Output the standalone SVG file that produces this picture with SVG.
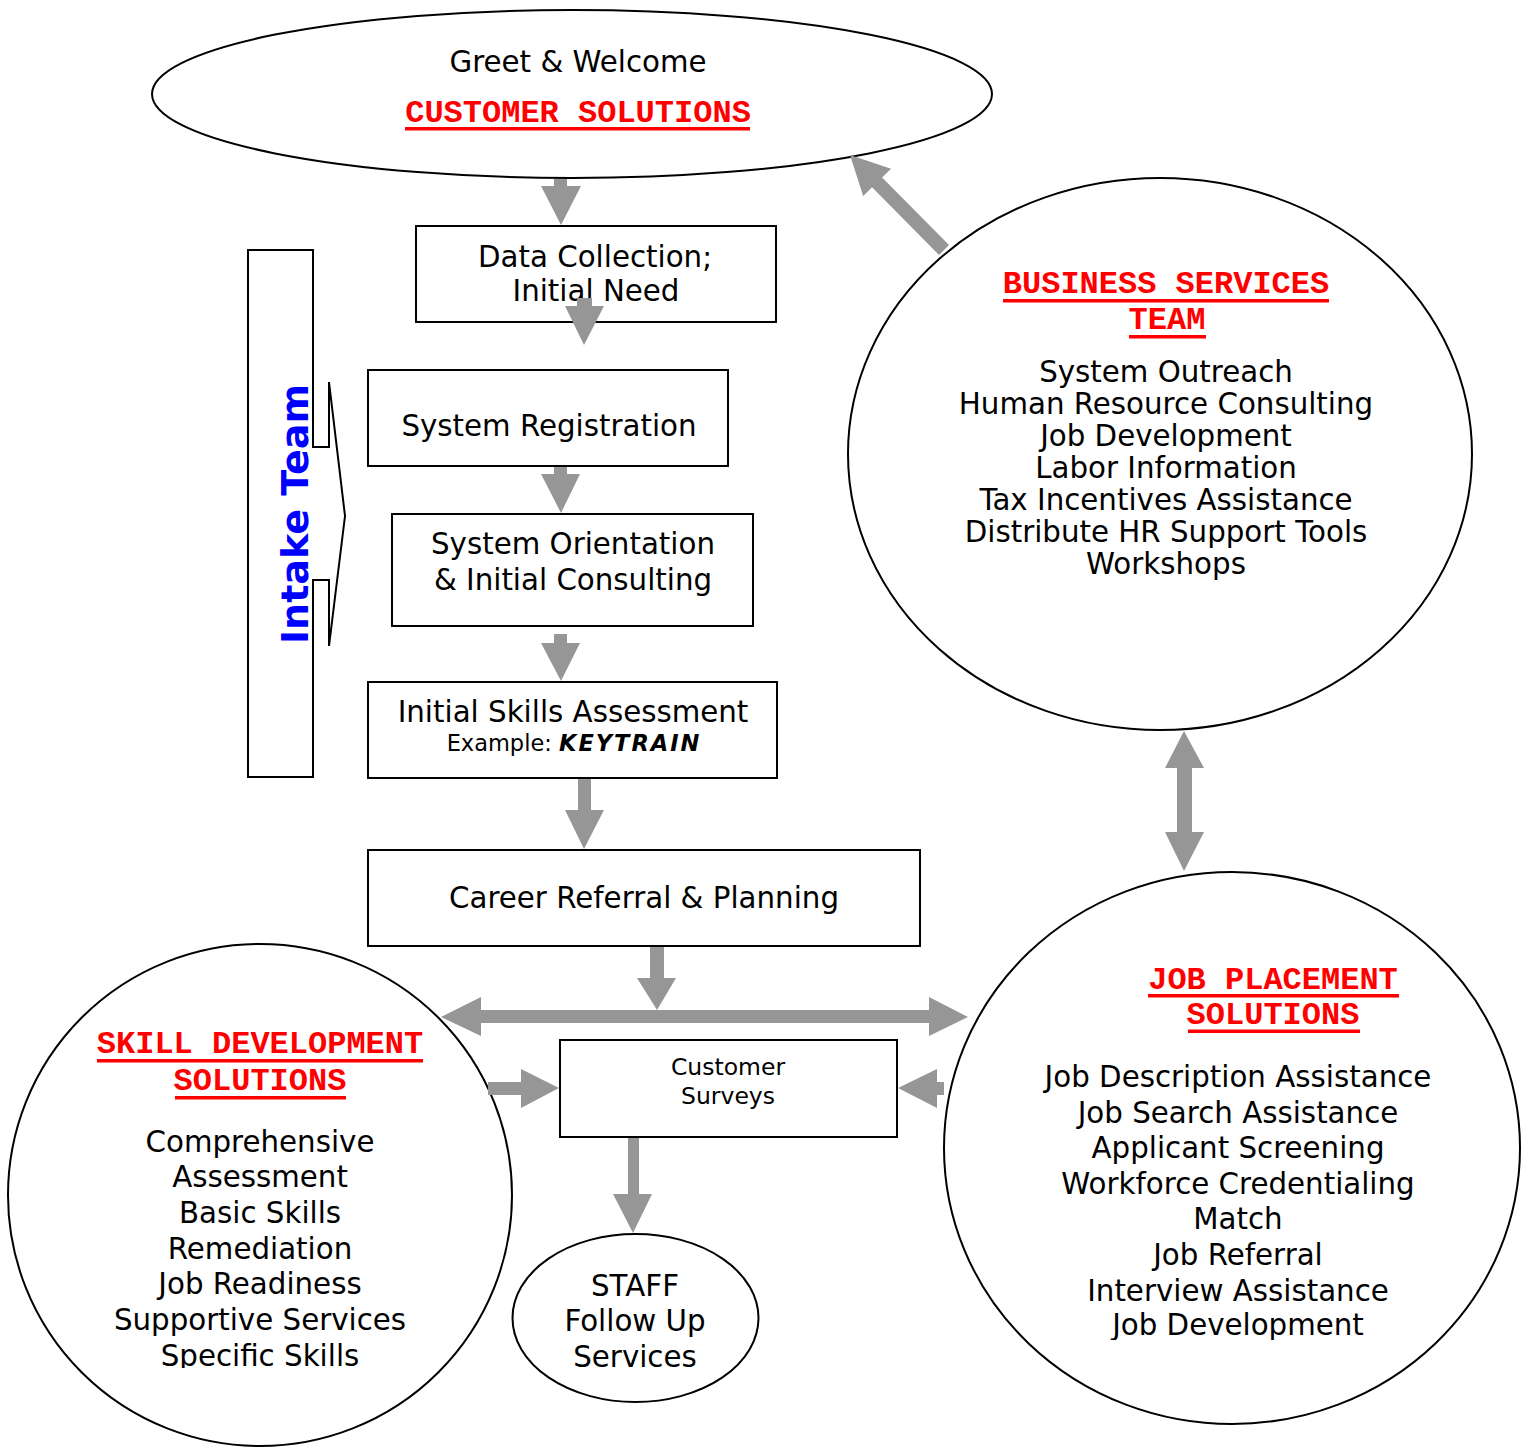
<svg xmlns="http://www.w3.org/2000/svg" width="1524" height="1447" viewBox="0 0 1524 1447">
<style>
.shape{fill:#fff;stroke:#000;stroke-width:2}
.t{font-family:"DejaVu Sans","Verdana",sans-serif;font-size:29.3px;fill:#000;text-anchor:middle}
.s{font-size:23.5px}
.ex{font-size:22.5px}
.h{font-family:"Liberation Mono","Courier New",monospace;font-weight:bold;font-size:32px;fill:#f00;text-anchor:middle}
.ul{fill:#f00}
.arr{fill:#969696;stroke:none}
</style>
<defs>
<clipPath id="clipSds"><rect x="0" y="1100" width="520" height="268"/></clipPath>
<clipPath id="clipJps"><rect x="940" y="1040" width="584" height="300"/></clipPath>
</defs>

<g id="customer-solutions">
<ellipse class="shape" cx="572" cy="94" rx="420" ry="84"/>
<text class="t" x="578" y="72">Greet &amp; Welcome</text>
<text class="h" x="578" y="122">CUSTOMER SOLUTIONS</text>
<rect class="ul" x="405" y="127" width="345" height="3.5"/>
</g>

<g id="intake-team">
<path d="M248,250 H313 V447 H329 V382 L345,516 L329,646 V580 H313 V777 H248 Z" fill="none" stroke="#000" stroke-width="2"/>
<text transform="translate(308,514) rotate(-90)" x="0" y="0" font-family="DejaVu Sans, Verdana, sans-serif" font-weight="bold" font-size="38" fill="#0000ff" text-anchor="middle">Intake Team</text>
</g>

<g id="data-collection">
<rect class="shape" x="416" y="226" width="360" height="96"/>
<text class="t" x="595" y="267">Data Collection;</text>
<text class="t" x="596" y="301">Initial Need</text>
</g>

<g id="system-registration">
<rect class="shape" x="368" y="370" width="360" height="96"/>
<text class="t" x="549" y="436">System Registration</text>
</g>

<g id="system-orientation">
<rect class="shape" x="392" y="514" width="361" height="112"/>
<text class="t" x="573" y="554">System Orientation</text>
<text class="t" x="573" y="590">&amp; Initial Consulting</text>
</g>

<g id="initial-skills">
<rect class="shape" x="368" y="682" width="409" height="96"/>
<text class="t" x="573" y="722">Initial Skills Assessment</text>
<text class="t ex" x="574" y="751"><tspan>Example: </tspan><tspan font-weight="bold" font-style="italic" letter-spacing="2">KEYTRAIN</tspan></text>
</g>

<g id="career-referral">
<rect class="shape" x="368" y="850" width="552" height="96"/>
<text class="t" x="644" y="908">Career Referral &amp; Planning</text>
</g>

<g id="business-services">
<ellipse class="shape" cx="1160" cy="454" rx="312" ry="276"/>
<text class="h" x="1166" y="293">BUSINESS SERVICES</text>
<rect class="ul" x="1003" y="299" width="326" height="3.5"/>
<text class="h" x="1167" y="329">TEAM</text>
<rect class="ul" x="1129" y="335" width="77" height="3.5"/>
<text class="t" x="1166" y="382">System Outreach</text>
<text class="t" x="1166" y="414">Human Resource Consulting</text>
<text class="t" x="1166" y="446">Job Development</text>
<text class="t" x="1166" y="478">Labor Information</text>
<text class="t" x="1166" y="510">Tax Incentives Assistance</text>
<text class="t" x="1166" y="542">Distribute HR Support Tools</text>
<text class="t" x="1166" y="574">Workshops</text>
</g>

<g id="skill-development">
<ellipse class="shape" cx="260" cy="1195" rx="252" ry="251"/>
<text class="h" x="260" y="1053">SKILL DEVELOPMENT</text>
<rect class="ul" x="97" y="1059" width="326" height="3.5"/>
<text class="h" x="260" y="1090">SOLUTIONS</text>
<rect class="ul" x="175" y="1096" width="171" height="3.5"/>
<g clip-path="url(#clipSds)">
<text class="t" x="260" y="1152">Comprehensive</text>
<text class="t" x="260" y="1187">Assessment</text>
<text class="t" x="260" y="1223">Basic Skills</text>
<text class="t" x="260" y="1259">Remediation</text>
<text class="t" x="260" y="1294">Job Readiness</text>
<text class="t" x="260" y="1330">Supportive Services</text>
<text class="t" x="260" y="1366">Specific Skills</text>
</g>
</g>

<g id="customer-surveys">
<rect class="shape" x="560" y="1040" width="337" height="97"/>
<text class="t s" x="728" y="1075">Customer</text>
<text class="t s" x="728" y="1104">Surveys</text>
</g>

<g id="job-placement">
<ellipse class="shape" cx="1232" cy="1148" rx="288" ry="276"/>
<text class="h" x="1273" y="989">JOB PLACEMENT</text>
<rect class="ul" x="1148" y="994" width="251" height="3.5"/>
<text class="h" x="1273" y="1024">SOLUTIONS</text>
<rect class="ul" x="1188" y="1029.5" width="172" height="3.5"/>
<g clip-path="url(#clipJps)">
<text class="t" x="1238" y="1087">Job Description Assistance</text>
<text class="t" x="1238" y="1123">Job Search Assistance</text>
<text class="t" x="1238" y="1158">Applicant Screening</text>
<text class="t" x="1238" y="1194">Workforce Credentialing</text>
<text class="t" x="1238" y="1229">Match</text>
<text class="t" x="1238" y="1265">Job Referral</text>
<text class="t" x="1238" y="1301">Interview Assistance</text>
<text class="t" x="1238" y="1335">Job Development</text>
</g>
</g>

<g id="staff-follow-up">
<ellipse class="shape" cx="635.5" cy="1318" rx="123" ry="84"/>
<text class="t" x="635" y="1296">STAFF</text>
<text class="t" x="635" y="1331">Follow Up</text>
<text class="t" x="635" y="1367">Services</text>
</g>

<g id="connectors">
<polygon class="arr" points="554,179 567,179 567,186 581,186 561,225 541,186 554,186"/>
<polygon class="arr" points="577,298 592,298 592,306 604,306 584,345 565,306 577,306"/>
<polygon class="arr" points="554,467 567,467 567,474 580,474 561,513 541,474 554,474"/>
<polygon class="arr" points="554,634 567,634 567,643 580,643 561,681 541,643 554,643"/>
<polygon class="arr" points="578,779 591,779 591,810 604,810 584,849 565,810 578,810"/>
<polygon class="arr" points="650,947 664,947 664,978 676,978 657,1010 637,978 650,978"/>
<polygon class="arr" points="441,1017 481,997 481,1010 929,1010 929,997 968,1017 929,1036 929,1023 481,1023 481,1036"/>
<polygon class="arr" points="488,1082 521,1082 521,1069 559,1088 521,1108 521,1095 488,1095"/>
<polygon class="arr" points="944,1082 937,1082 937,1069 898,1088 937,1108 937,1095 944,1095"/>
<polygon class="arr" points="628,1138 639,1138 639,1194 652,1194 633,1233 613,1194 628,1194"/>
<polygon class="arr" points="850,155 891,168.7 882.1,177.5 949,245.1 939,254.9 872.1,187.3 863.2,196.1"/>
<polygon class="arr" points="1184,731 1204,768 1192,768 1192,832 1204,832 1184,871 1165,832 1177,832 1177,768 1165,768"/>
</g>
</svg>
